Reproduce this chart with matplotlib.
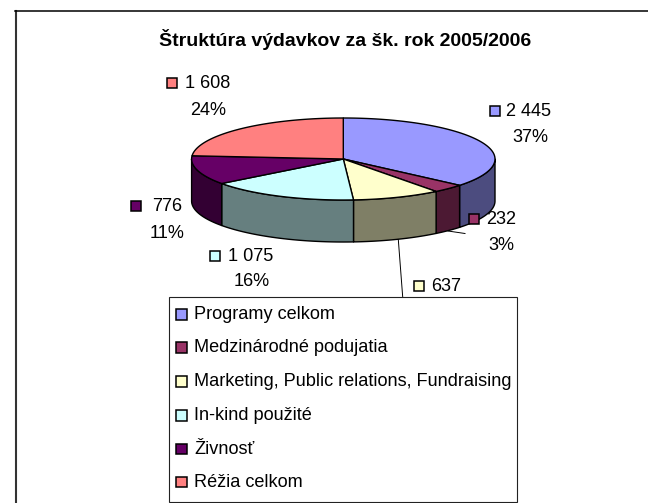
import numpy as np
import matplotlib
matplotlib.use("Agg")
import matplotlib.pyplot as plt
from matplotlib.patches import Rectangle

categories = ["Programy celkom", "Medzinárodné podujatia",
              "Marketing, Public relations, Fundraising",
              "In-kind použité", "Živnosť", "Réžia celkom"]
values = [2445, 232, 637, 1075, 776, 1608]
value_labels = ["2 445", "232", "637", "1 075", "776", "1 608"]
pct_labels = ["37%", "3%", "", "16%", "11%", "24%"]
top_colors = ["#9999FF", "#993366", "#FFFFCC", "#CCFFFF", "#660066", "#FF8080"]
side_colors = ["#4C4C7F", "#4C1933", "#7F7F66", "#667F7F", "#330033", "#7F4040"]
title = "Štruktúra výdavkov za šk. rok 2005/2006"

plt.rcParams["font.family"] = "Liberation Sans"
W, H = 648, 503
fig = plt.figure(figsize=(W / 100, H / 100), dpi=100, facecolor="white")
ax = fig.add_axes([0, 0, 1, 1])
ax.set_xlim(0, W)
ax.set_ylim(H, 0)
ax.axis("off")

EDGE = "#000000"
FS = 13.1
ax.plot([16, 16], [H, 11], color="#333333", lw=1.5, zorder=0)
ax.plot([15, W], [11, 11], color="#000000", lw=1.1, zorder=0)
ax.text(345, 39.5, title, ha="center", va="center", fontsize=14.0, fontweight="bold")

cx, cy, rx, ry, depth = 343.3, 159, 151.7, 41, 42
total = sum(values)
bounds = np.concatenate([[0], np.cumsum(values)]) / total * 2 * np.pi

def rim(a0, a1, dy=0, n=120):
    t = np.linspace(a0, a1, n)
    return cx + rx * np.sin(t), cy - ry * np.cos(t) + dy

# side walls (only the front half, angle pi/2..3pi/2 clockwise from the top)
for i in range(len(values)):
    a0, a1 = max(bounds[i], np.pi / 2), min(bounds[i + 1], 3 * np.pi / 2)
    if a1 <= a0:
        continue
    x, y = rim(a0, a1)
    xb, yb = rim(a1, a0, depth)
    ax.fill(np.r_[x, xb], np.r_[y, yb], fc=side_colors[i], ec=EDGE, lw=1.0, joinstyle="round", zorder=2)

# top slices
for i in range(len(values)):
    x, y = rim(bounds[i], bounds[i + 1])
    ax.fill(np.r_[cx, x], np.r_[cy, y], fc=top_colors[i], ec=EDGE, lw=1.0, joinstyle="round", zorder=3)

# leader lines
ax.plot([448, 465], [231, 233.5], color="black", lw=0.7, zorder=1)
ax.plot([398.3, 402.7], [239.5, 297], color="black", lw=0.7, zorder=1)

# data labels: marker x, marker y, value x, percent centre x, percent y
label_pos = [
    (494.5, 110.5, 506.5, 530, 137.5),
    (474, 219, 486, 501, 245.5),
    (419, 286, 431, None, None),
    (215, 256, 228, 252, 282),
    (136, 206, 152, 167, 233.5),
    (172, 82.5, 185, 208, 110),
]
for i, (mx, my, tx, px, py) in enumerate(label_pos):
    ax.add_patch(Rectangle((mx - 5, my - 5), 10, 10, fc=top_colors[i], ec="black", lw=1.1, zorder=6))
    ax.text(tx, my + 0.5, value_labels[i], ha="left", va="center", fontsize=FS, zorder=6)
    if pct_labels[i]:
        ax.text(px, py, pct_labels[i], ha="center", va="center", fontsize=FS, zorder=6)

# legend
ax.add_patch(Rectangle((169, 296.7), 347.7, 205, fc="white", ec="#222222", lw=0.8, zorder=4))
legend_y = [314, 347.3, 381, 415.3, 448.7, 481.7]
for name, color, ly in zip(categories, top_colors, legend_y):
    ax.add_patch(Rectangle((176, ly - 5), 10.5, 10.5, fc=color, ec="black", lw=1.1, zorder=5))
    ax.text(194, ly + 0.5, name, ha="left", va="center", fontsize=FS, zorder=5)

fig.savefig("out.png", dpi=100)
